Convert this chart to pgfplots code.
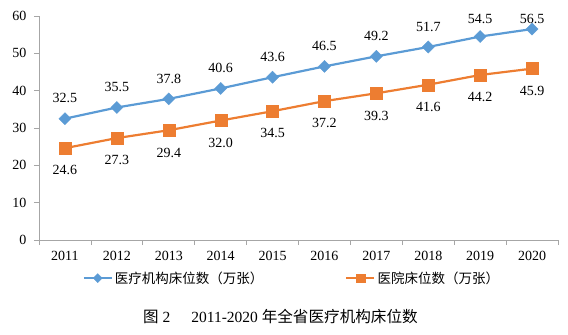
\documentclass[border=0pt]{standalone}
\usepackage{pgfplots}
\pgfplotsset{compat=1.18}
\usepackage{fontspec}
\setmainfont{Liberation Serif}
\newfontfamily\cjk{Noto Sans CJK SC}
\definecolor{cblue}{HTML}{5B9BD5}
\definecolor{corange}{HTML}{ED7D31}
\definecolor{axgray}{HTML}{A6A6A6}
\begin{document}
\begin{tikzpicture}
\begin{axis}[
  scale only axis,
  width=519bp, height=224bp,
  xmin=-0.5, xmax=9.5, ymin=0, ymax=60,
  ytick={0,10,...,60},
  xtick={0,...,9},
  xticklabels={2011,2012,2013,2014,2015,2016,2017,2018,2019,2020},
  minor xtick={-0.5,0.5,...,9.5},
  axis lines*=left,
  axis line style={axgray, line width=0.8pt},
  every tick/.style={axgray, line width=0.8pt},
  tick align=outside,
  x tick style={draw=none},
  minor x tick style={draw=axgray},
  minor tick length=5bp,
  major tick length=5bp,
  tick label style={font=\fontsize{14bp}{16bp}\selectfont},
  /pgf/number format/assume math mode=true,
  xticklabel style={yshift=-3bp},
  yticklabel style={xshift=-4bp},
  clip=false,
  every node near coord/.append style={font=\fontsize{14bp}{16bp}\selectfont, black, /pgf/number format/fixed, /pgf/number format/fixed zerofill, /pgf/number format/precision=1},
  legend columns=2,
  legend style={at={(0.0838,-0.170)}, anchor=west, draw=none, inner sep=0pt,
    font=\cjk\fontsize{13.5bp}{15bp}\selectfont,
    /tikz/every even column/.append style={column sep=80bp}},
  legend image code/.code={
    \draw[#1, mark repeat=2, mark phase=2] plot coordinates {(0bp,0bp) (14bp,0bp) (28bp,0bp)};
  },
]
% lines and marks
\addplot[cblue, line width=2.2pt, mark=square*, mark size=4.3bp, mark options={solid, rotate=45, fill=cblue, line width=0.3pt}, forget plot]
  coordinates {(0,32.5)(1,35.5)(2,37.8)(3,40.6)(4,43.6)(5,46.5)(6,49.2)(7,51.7)(8,54.5)(9,56.5)};
\addplot[corange, line width=2.2pt, mark=square*, mark size=6bp, mark options={solid, fill=corange, line width=0.3pt}, forget plot]
  coordinates {(0,24.6)(1,27.3)(2,29.4)(3,32.0)(4,34.5)(5,37.2)(6,39.3)(7,41.6)(8,44.2)(9,45.9)};
% data labels
\addplot[draw=none, mark=none, forget plot, nodes near coords,
  every node near coord/.append style={anchor=south, yshift=12bp}]
  coordinates {(0,32.5)(1,35.5)(2,37.8)(3,40.6)(4,43.6)(5,46.5)(6,49.2)(7,51.7)};
\addplot[draw=none, mark=none, forget plot, nodes near coords,
  every node near coord/.append style={anchor=south, yshift=9bp}]
  coordinates {(8,54.5)};
\addplot[draw=none, mark=none, forget plot, nodes near coords,
  every node near coord/.append style={anchor=south, yshift=2bp}]
  coordinates {(9,56.5)};
\addplot[draw=none, mark=none, forget plot, nodes near coords,
  every node near coord/.append style={anchor=north, yshift=-14bp}]
  coordinates {(0,24.6)(1,27.3)(2,29.4)(3,32.0)(4,34.5)(5,37.2)(6,39.3)(7,41.6)(8,44.2)(9,45.9)};
% legend
\addlegendimage{cblue, line width=2.2pt, mark=square*, mark size=3.2bp, mark options={solid, rotate=45, fill=cblue, line width=0.3pt}}
\addlegendentry{医疗机构床位数（万张）}
\addlegendimage{corange, line width=2.2pt, mark=square*, mark size=4.3bp, mark options={solid, fill=corange, line width=0.3pt}}
\addlegendentry{医院床位数（万张）}
\end{axis}
\node[anchor=west, font=\fontsize{15.5bp}{17bp}\selectfont, inner sep=0pt] at ([xshift=104bp, yshift=-77bp]current axis.south west) {{\cjk 图} 2\hspace{21bp}2011-2020 {\cjk\fontsize{15.6bp}{17bp}\selectfont 年全省医疗机构床位数}};
\pgfresetboundingbox
\path[use as bounding box] ([xshift=-39bp, yshift=-95bp]current axis.south west) rectangle ++(568bp,335bp);
\end{tikzpicture}
\end{document}
